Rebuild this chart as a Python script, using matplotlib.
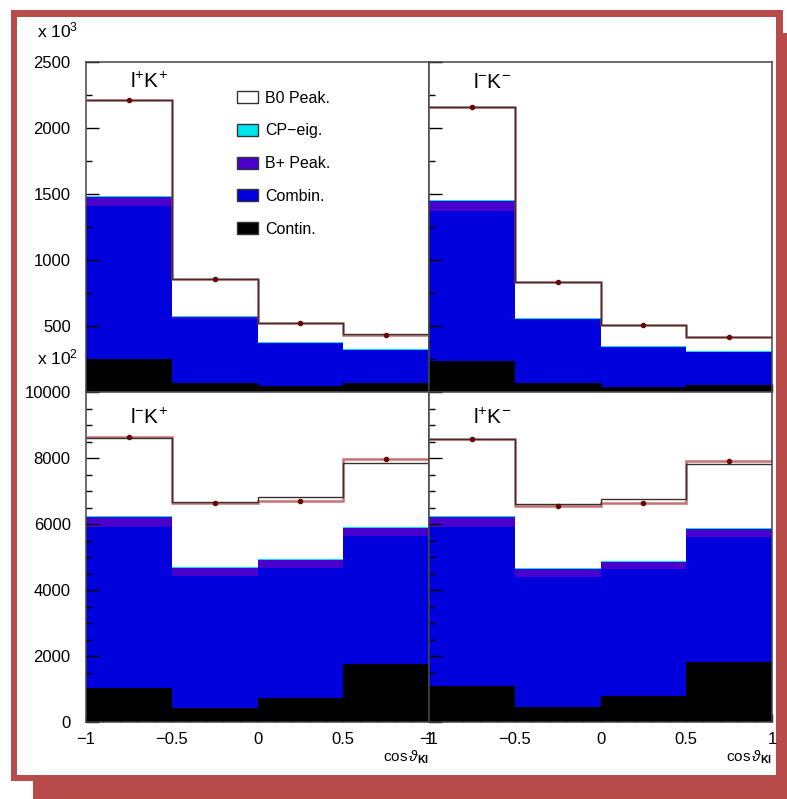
import matplotlib
matplotlib.use('Agg')
import matplotlib.pyplot as plt
import numpy as np
from matplotlib.patches import Rectangle, Patch
from matplotlib.ticker import MultipleLocator

plt.rcParams['font.family'] = ['Liberation Sans', 'DejaVu Sans']
plt.rcParams['mathtext.fontset'] = 'custom'
plt.rcParams['mathtext.rm'] = 'Liberation Sans'
plt.rcParams['mathtext.it'] = 'Liberation Sans:italic'
plt.rcParams['mathtext.bf'] = 'Liberation Sans:bold'

# bins in cos(theta_Kl)
edges = [-1.0, -0.5, 0.0, 0.5, 1.0]
centres = [-0.75, -0.25, 0.25, 0.75]

# l+K+  (x 10^3)
lpkp_contin = [250, 68, 45, 68]
lpkp_combin = [1159, 485, 326, 250]
lpkp_bplus = [68, 15, 3, 3]
lpkp_cpeig = [8, 6, 5, 5]
lpkp_b0 = [727, 282, 144, 113]
lpkp_data = [2215, 856, 523, 435]

# l-K-  (x 10^3)
lmkm_contin = [235, 68, 38, 53]
lmkm_combin = [1136, 485, 303, 250]
lmkm_bplus = [76, 3, 2, 2]
lmkm_cpeig = [8, 7, 4, 5]
lmkm_b0 = [704, 270, 160, 107]
lmkm_data = [2160, 833, 507, 417]

# l-K+  (x 10^2)
lmkp_contin = [1020, 435, 737, 1758]
lmkp_combin = [4898, 3989, 3920, 3878]
lmkp_bplus = [285, 253, 252, 233]
lmkp_cpeig = [39, 30, 31, 31]
lmkp_b0 = [2373, 1950, 1888, 1938]
lmkp_data = [8630, 6645, 6707, 7960]

# l+K-  (x 10^2)
lpkm_contin = [1101, 465, 788, 1828]
lpkm_combin = [4817, 3939, 3838, 3788]
lpkm_bplus = [285, 232, 232, 233]
lpkm_cpeig = [37, 34, 32, 31]
lpkm_b0 = [2336, 1936, 1857, 1928]
lpkm_data = [8590, 6553, 6646, 7909]

comp_names = ['Contin.', 'Combin.', 'B+ Peak.', 'CP\u2212eig.', 'B0 Peak.']
comp_colors = ['black', '#0000dc', '#4a00cc', '#00e6f0', 'white']

RED = '#b84c4a'
W, H = 787, 799

fig = plt.figure(figsize=(W / 100, H / 100), dpi=100)

# ROOT-style canvas frame with shadow
fig.add_artist(Rectangle((33 / W, -0.05), 1.0, 1 - 33 / H + 0.05, transform=fig.transFigure,
                         facecolor=RED, edgecolor='none', zorder=-5))
fig.add_artist(Rectangle((11 / W, 1 - 781 / H), (783 - 11) / W, (781 - 10) / H, transform=fig.transFigure,
                         facecolor=RED, edgecolor='none', zorder=-4))
fig.add_artist(Rectangle((17 / W, 1 - 775 / H), (776 - 17) / W, (775 - 17) / H, transform=fig.transFigure,
                         facecolor='white', edgecolor='none', zorder=-3))

panels = [
    ('top', 'left', r'$\mathrm{l^{+}K^{+}}$',
     [lpkp_contin, lpkp_combin, lpkp_bplus, lpkp_cpeig, lpkp_b0], lpkp_data),
    ('top', 'right', r'$\mathrm{l^{-}K^{-}}$',
     [lmkm_contin, lmkm_combin, lmkm_bplus, lmkm_cpeig, lmkm_b0], lmkm_data),
    ('bottom', 'left', r'$\mathrm{l^{-}K^{+}}$',
     [lmkp_contin, lmkp_combin, lmkp_bplus, lmkp_cpeig, lmkp_b0], lmkp_data),
    ('bottom', 'right', r'$\mathrm{l^{+}K^{-}}$',
     [lpkm_contin, lpkm_combin, lpkm_bplus, lpkm_cpeig, lpkm_b0], lpkm_data),
]

ax_w = 343 / W
ax_h = 330 / H
for row, col, label, comps, data in panels:
    x0 = 86 / W if col == 'left' else 429 / W
    y0 = 1 - 392 / H if row == 'top' else 1 - 722 / H
    ax = fig.add_axes([x0, y0, ax_w, ax_h])

    lower = np.zeros(4)
    for vals, c in zip(comps, comp_colors):
        upper = lower + np.array(vals)
        ax.stairs(upper, edges, baseline=lower, fill=True, color=c, lw=0)
        lower = upper
    # data histogram (red) under the total MC outline (dark)
    ax.stairs(data, edges, baseline=None, color='#b84040', lw=1.8, alpha=0.75)
    ax.stairs(lower, edges, baseline=None, color='#333333', lw=1.0)
    ax.plot(centres, data, 'o', color='#6a0808', ms=3.0, zorder=5)

    ax.set_xlim(-1, 1)
    if row == 'top':
        ax.set_ylim(0, 2500)
        ax.yaxis.set_major_locator(MultipleLocator(500))
        ax.yaxis.set_minor_locator(MultipleLocator(250))
    else:
        ax.set_ylim(0, 10000)
        ax.yaxis.set_major_locator(MultipleLocator(2000))
        ax.yaxis.set_minor_locator(MultipleLocator(500))
    ax.xaxis.set_major_locator(MultipleLocator(0.5))
    ax.xaxis.set_minor_locator(MultipleLocator(0.1))

    ax.tick_params(which='both', direction='in', top=False, right=False, colors='black',
                   labelsize=12, width=1)
    ax.tick_params(axis='y', which='major', length=9, pad=11)
    ax.tick_params(axis='y', which='minor', length=4.5)
    ax.tick_params(axis='x', which='major', length=6, pad=7)
    ax.tick_params(axis='x', which='minor', length=3)

    if col == 'right':
        ax.tick_params(axis='y', labelleft=False)
    if row == 'top':
        ax.tick_params(axis='x', labelbottom=False)
        if col == 'left':
            ax.set_yticks([0, 500, 1000, 1500, 2000, 2500], ['', '500', '1000', '1500', '2000', '2500'])
    else:
        ax.set_xticks([-1, -0.5, 0, 0.5, 1], ['\u22121', '\u22120.5', '0', '0.5', '1'])
        ax.set_xlabel(r'$\cos\vartheta_{\mathbf{Kl}}$', loc='right', fontsize=11, labelpad=1)

    for s in ax.spines.values():
        s.set_color('#444444')
        s.set_linewidth(1.1)

    ty = 0.939 if row == 'top' else 0.921
    ax.text(0.128, ty, label, transform=ax.transAxes, fontsize=15, va='center', ha='left')

    if row == 'top' and col == 'left':
        handles = [Patch(facecolor=c, edgecolor='#333333', lw=1) for c in comp_colors[::-1]]
        ax.legend(handles, comp_names[::-1], loc='upper left', bbox_to_anchor=(0.44, 0.913),
                  frameon=False, fontsize=11.5, handlelength=1.3, handleheight=0.8,
                  handletextpad=0.45, labelspacing=1.11, borderpad=0, borderaxespad=0)

fig.text(37 / W, 1 - 30 / H, r'x 10$^{3}$', fontsize=12.5, va='center', ha='left')
fig.text(37 / W, 1 - 357 / H, r'x 10$^{2}$', fontsize=12.5, va='center', ha='left')

fig.savefig('out.png', dpi=100)
